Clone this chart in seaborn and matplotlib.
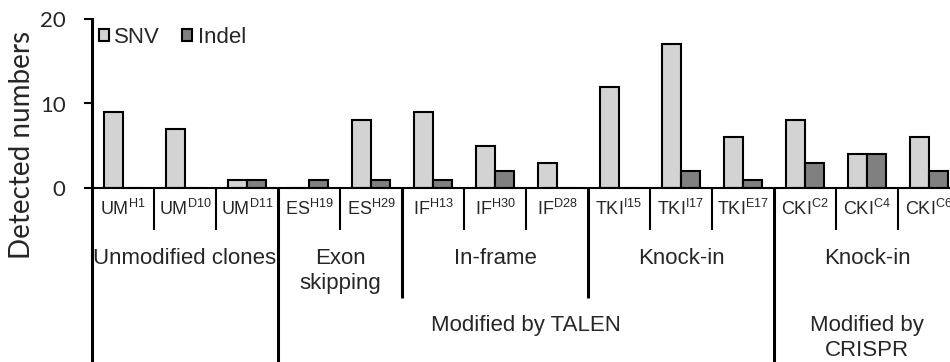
import matplotlib
matplotlib.use("Agg")
import matplotlib.pyplot as plt
from matplotlib.lines import Line2D
from matplotlib.transforms import blended_transform_factory
import pandas as pd
import seaborn as sns

# ---------------- data ----------------
clone_base = ["UM", "UM", "UM", "ES", "ES", "IF", "IF", "IF",
              "TKI", "TKI", "TKI", "CKI", "CKI", "CKI"]
clone_sup = ["H1", "D10", "D11", "H19", "H29", "H13", "H30", "D28",
             "I15", "I17", "E17", "C2", "C4", "C6"]
snv = [9, 7, 1, 0, 8, 9, 5, 3, 12, 17, 6, 8, 4, 6]
indel = [0, 0, 1, 1, 1, 1, 2, 0, 0, 2, 1, 3, 4, 2]
series_names = ["SNV", "Indel"]
series_colors = ["#d3d3d3", "#808080"]
y_ticks = [0, 10, 20]
y_label = "Detected numbers"

# group labels: (text, first index, last index)
groups_lvl1 = [("Unmodified clones", 0, 2), ("Exon\nskipping", 3, 4),
               ("In-frame", 5, 7), ("Knock-in", 8, 10), ("Knock-in", 11, 13)]
groups_lvl2 = [("Modified by TALEN", 3, 10), ("Modified by\nCRISPR", 11, 13)]

# ---------------- style ----------------
sns.set_style("ticks")
plt.rcParams["font.family"] = ["Liberation Sans", "DejaVu Sans"]
plt.rcParams["mathtext.fontset"] = "custom"
plt.rcParams["mathtext.rm"] = "Liberation Sans"
plt.rcParams["mathtext.it"] = "Liberation Sans:italic"
plt.rcParams["mathtext.bf"] = "Liberation Sans:bold"

labels = [f"{b}$^{{\\mathrm{{{s}}}}}$" for b, s in zip(clone_base, clone_sup)]
df = pd.DataFrame({
    "clone": labels * 2,
    "type": [series_names[0]] * len(labels) + [series_names[1]] * len(labels),
    "count": snv + indel,
})

W, H = 950, 362
fig = plt.figure(figsize=(W / 100, H / 100), dpi=100)
ax_left, ax_zero, ax_top = 92, 188, 19
cat_w = 62.0
ax = fig.add_axes([ax_left / W, (H - ax_zero) / H, (W - ax_left) / W, (ax_zero - ax_top) / H])

sns.barplot(data=df, x="clone", y="count", hue="type", order=labels,
            hue_order=series_names, palette=dict(zip(series_names, series_colors)),
            edgecolor="black", linewidth=1.5, width=0.6, saturation=1, ax=ax)

ax.set_ylim(0, 20)
ax.set_yticks(y_ticks)
ax.set_xticks(range(len(labels)))
ax.set_xticklabels(labels, fontsize=13)
ax.tick_params(axis="x", length=0, pad=8)
ax.tick_params(axis="y", length=6, width=1.5, pad=13, labelsize=16,
               labelfontfamily="Lato", color="black", direction="out", left=True)
ax.set_xlabel("")
ax.set_ylabel(y_label, fontsize=20, family="Lato", va="center")
ax_h = ax_zero - ax_top
ax.yaxis.set_label_coords((22 - ax_left) / (W - ax_left), (ax_zero - 145) / ax_h)

for s in ["top", "right"]:
    ax.spines[s].set_visible(False)
ax.spines["left"].set_linewidth(2.2)
ax.spines["bottom"].set_linewidth(1.5)
ax.spines["left"].set_color("black")
ax.spines["bottom"].set_color("black")

handles, lbls = ax.get_legend_handles_labels()
ax.legend(handles, lbls, loc="upper left", bbox_to_anchor=(0.0, 0.99), frameon=False,
          ncol=2, fontsize=16, handlelength=0.45, handleheight=0.45,
          handletextpad=0.25, columnspacing=1.0, borderaxespad=0.1, borderpad=0.2)

trans = blended_transform_factory(ax.transData, ax.transAxes)


def py(p):
    return (ax_zero - p) / ax_h


# divider lines
n = len(labels)
major = {-0.5, 2.5, 10.5}
mid = {4.5, 7.5}
bounds = [-0.5] + [i + 0.5 for i in range(n - 1)]
for b in bounds:
    if b in major:
        end, lw = H + 5, 2.2
    elif b in mid:
        end, lw = 298, 2.2
    else:
        end, lw = 230, 1.5
    ln = Line2D([b, b], [0, py(end)], transform=trans, color="black", lw=lw,
                clip_on=False, solid_capstyle="butt")
    ax.add_artist(ln)

# group labels
for text, a, b in groups_lvl1:
    for k, line in enumerate(text.split("\n")):
        ax.text((a + b) / 2, py(258 + 25 * k), line, transform=trans, ha="center",
                va="center", fontsize=16, clip_on=False)
for text, a, b in groups_lvl2:
    for k, line in enumerate(text.split("\n")):
        ax.text((a + b) / 2, py(325 + 25 * k), line, transform=trans, ha="center",
                va="center", fontsize=16, clip_on=False)

ax.set_xlim(-0.5, -0.5 + (W - ax_left) / cat_w)

fig.savefig("out.png", dpi=100)
